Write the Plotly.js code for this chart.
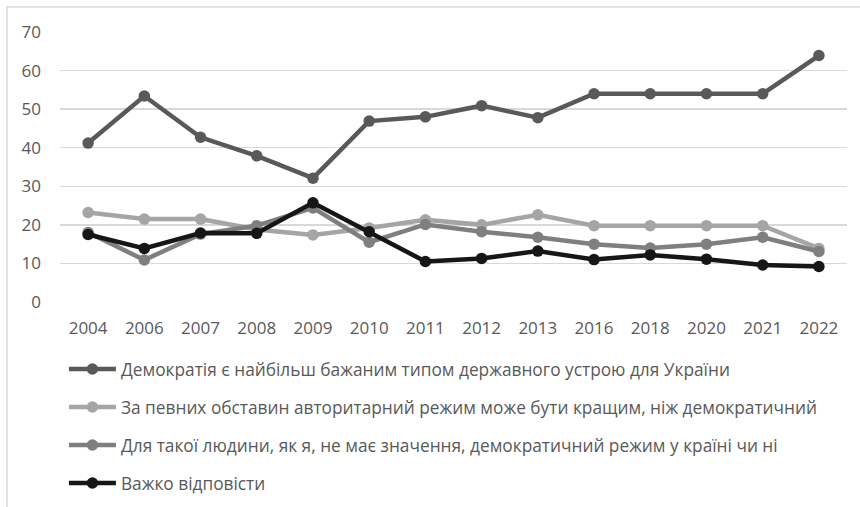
<!DOCTYPE html>
<html>
<head>
<meta charset="utf-8">
<script src="https://cdn.plot.ly/plotly-3.0.1.min.js"></script>
<style>
html,body{margin:0;padding:0;background:#fff;}
#chart{width:860px;height:507px;}
</style>
</head>
<body>
<div id="chart"></div>
<script>
const years = ["2004","2006","2007","2008","2009","2010","2011","2012","2013","2016","2018","2020","2021","2022"];
const seriesNames = [
  "Демократія є найбільш бажаним типом державного устрою для України",
  "За певних обставин авторитарний режим може бути кращим, ніж демократичний",
  "Для такої людини, як я, не має значення, демократичний режим у країні чи ні",
  "Важко відповісти"
];
const democracy   = [41.2, 53.4, 42.7, 37.9, 32.1, 46.9, 48.0, 50.9, 47.8, 54, 54, 54, 54, 63.9];
const authoritarian = [23.2, 21.5, 21.5, 18.8, 17.4, 19.2, 21.3, 20.0, 22.6, 19.8, 19.8, 19.8, 19.8, 13.9];
const noMatter    = [18.0, 10.9, 17.6, 19.8, 24.4, 15.5, 20.1, 18.2, 16.8, 15.0, 14.0, 15.0, 16.8, 13.1];
const hardToSay   = [17.5, 13.9, 17.9, 17.8, 25.7, 18.2, 10.5, 11.3, 13.2, 11.0, 12.2, 11.1, 9.6, 9.2];
const colors = ["#595959", "#a5a5a5", "#7f7f7f", "#161616"];
const allSeries = [democracy, authoritarian, noMatter, hardToSay];

const traces = allSeries.map((vals, i) => ({
  type: "scatter",
  mode: "lines+markers",
  x: years,
  y: vals,
  name: seriesNames[i],
  legendgroup: "g" + i,
  line: {color: colors[i], width: 4.5},
  marker: {color: colors[i], size: 11.5},
  hoverinfo: "x+y"
}));

const layout = {
  width: 860,
  height: 507,
  margin: {l: 60, r: 13, t: 32, b: 205, autoexpand: false},
  paper_bgcolor: "#ffffff",
  plot_bgcolor: "#ffffff",
  font: {family: "Open Sans, sans-serif", size: 16, color: "#595959"},
  xaxis: {
    type: "category",
    range: [-0.5, 13.5],
    autorange: false,
    showgrid: false,
    zeroline: false,
    showline: false,
    ticks: "",
    ticklabelstandoff: 14,
    tickfont: {size: 17, color: "#595959"},
    fixedrange: true
  },
  yaxis: {
    range: [0, 70],
    autorange: false,
    dtick: 10,
    showgrid: true,
    gridcolor: "#d9d9d9",
    gridwidth: 1.5,
    zeroline: false,
    showline: false,
    ticks: "",
    ticklabelstandoff: 18,
    tickfont: {size: 17, color: "#595959"},
    fixedrange: true
  },
  showlegend: true,
  legend: {
    orientation: "v",
    x: 0.005,
    xanchor: "left",
    yref: "container",
    y: 0.3071,
    yanchor: "top",
    tracegroupgap: 12.5,
    itemwidth: 47,
    font: {size: 17.3, color: "#595959"},
    bgcolor: "rgba(0,0,0,0)"
  },
  shapes: [{
    type: "rect",
    xref: "paper", yref: "paper",
    x0: -0.0673, x1: 1.05, y0: -0.85, y1: 1.0926,
    line: {color: "#d9d9d9", width: 1.5},
    fillcolor: "rgba(0,0,0,0)",
    layer: "below"
  }]
};

Plotly.newPlot("chart", traces, layout, {displayModeBar: false, staticPlot: true});
</script>
</body>
</html>
